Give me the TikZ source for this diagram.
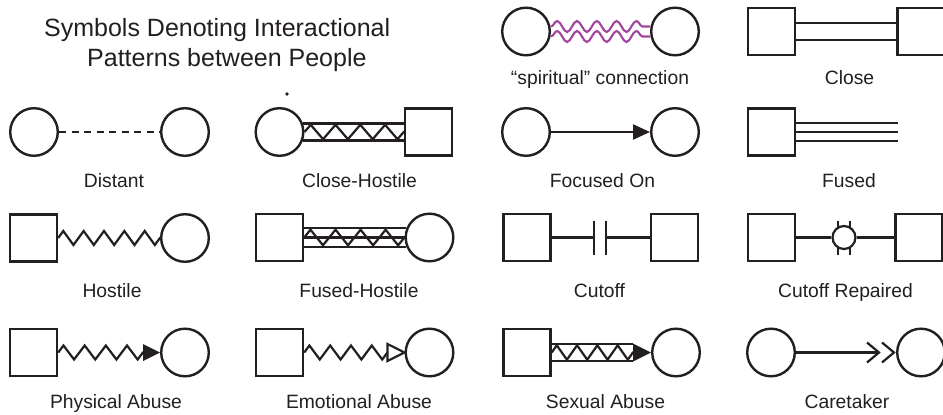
\documentclass[tikz,border=0pt]{standalone}
\usepackage{fontspec}
\setmainfont{Liberation Sans}
\usetikzlibrary{arrows.meta,decorations.pathmorphing}
\definecolor{ink}{HTML}{231F20}
\definecolor{spirit}{HTML}{A3449F}
\begin{document}
\begin{tikzpicture}[x=1pt,y=-1pt,
  fem/.style={circle,draw=ink,line width=2.4pt,minimum size=47.6pt,inner sep=0pt},
  male/.style={rectangle,draw=ink,line width=2.4pt,minimum size=47pt,inner sep=0pt},
  tie/.style={draw=ink,line width=2.2pt},
  zig/.style={tie,line join=miter,decorate,decoration={zigzag,amplitude=7pt,segment length=20pt}},
  spiritline/.style={draw=spirit,line width=2.1pt,decorate,decoration={snake,amplitude=5.5pt,segment length=19.8pt}},
  lbl/.style={text=ink,font=\fontsize{19.3}{22}\selectfont,anchor=base,inner sep=0pt},
  ttl/.style={text=ink,font=\fontsize{25}{30}\selectfont,anchor=base west,inner sep=0pt}]
\fill[white] (0,0) rectangle (943,415);
\useasboundingbox (0,0) rectangle (943,415);

% heading
\node[ttl] (title1) at (44,36) {Symbols Denoting Interactional};
\node[ttl] (title2) at (87,66) {Patterns between People};

% ---- spiritual connection
\node[fem] (sp1) at (526,31.5) {};
\node[fem] (sp2) at (675,31.5) {};
\draw[spiritline] ([yshift=5pt]sp1.east) -- ([yshift=5pt]sp2.west);
\draw[spiritline] ([yshift=-5pt]sp1.east) -- ([yshift=-5pt]sp2.west);
\node[lbl] (lsp) at (600,84) {“spiritual” connection};

% ---- close
\node[male] (cl1) at (771.5,31.5) {};
\node[male] (cl2) at (921,31.5) {};
\draw[tie] ([yshift=8.5pt]cl1.east) -- ([yshift=8.5pt]cl2.west);
\draw[tie] ([yshift=-8.5pt]cl1.east) -- ([yshift=-8.5pt]cl2.west);
\node[lbl] (lcl) at (849.5,84) {Close};

% ---- distant
\node[fem] (di1) at (34,132) {};
\node[fem] (di2) at (185,132) {};
\draw[tie,dash pattern=on 7pt off 5.5pt] (di1) -- (di2);
\node[lbl] (ldi) at (114,187) {Distant};

% ---- close-hostile
\fill[ink] (287,94) circle (1.8pt);
\node[fem] (ch1) at (279.5,132) {};
\node[male] (ch2) at (428.5,132) {};
\draw[tie] (ch1.20) -- (ch1.20 -| ch2.west);
\draw[tie] (ch1.-20) -- (ch1.-20 -| ch2.west);
\draw[zig,decoration={segment length=24.8pt,amplitude=7.2pt}] (ch1) -- (ch2);
\node[lbl] (lch) at (359.5,187) {Close-Hostile};

% ---- focused on
\node[fem] (fo1) at (526,132) {};
\node[fem] (fo2) at (675,132) {};
\draw[tie,-{Triangle[length=17pt,width=15pt]}] (fo1) -- (fo2);
\node[lbl] (lfo) at (602.5,187) {Focused On};

% ---- fused
\node[male] (fu) at (771.5,132) {};
\coordinate (fuend) at (898,132);
\draw[tie] ([yshift=8.7pt]fu.east) -- ([yshift=8.7pt]fuend);
\draw[tie] (fu.east) -- (fuend);
\draw[tie] ([yshift=-8.7pt]fu.east) -- ([yshift=-8.7pt]fuend);
\node[lbl] (lfu) at (849,187) {Fused};

% ---- hostile
\node[male] (ho1) at (33.5,238) {};
\node[fem] (ho2) at (185,238) {};
\draw[zig,decoration={segment length=20.35pt}] (ho1) -- (ho2);
\node[lbl] (lho) at (112,297.5) {Hostile};

% ---- fused-hostile
\node[male] (fh1) at (279.5,237.5) {};
\node[fem] (fh2) at (429.5,237.5) {};
\draw[tie] (fh2.158 -| fh1.east) -- (fh2.158);
\draw[tie] (fh1) -- (fh2);
\draw[tie] (fh2.202 -| fh1.east) -- (fh2.202);
\draw[zig,decoration={segment length=25.05pt,amplitude=7.8pt}] (fh1) -- (fh2);
\node[lbl] (lfh) at (359,297.5) {Fused-Hostile};

% ---- cutoff
\node[male] (co1) at (527,237.5) {};
\node[male] (co2) at (674.5,237.5) {};
\coordinate (cb1) at (594,237.5);
\coordinate (cb2) at (606,237.5);
\draw[tie] (co1) -- (cb1);
\draw[tie] (cb2) -- (co2);
\draw[tie] ([yshift=17pt]cb1) -- ([yshift=-17pt]cb1);
\draw[tie] ([yshift=17pt]cb2) -- ([yshift=-17pt]cb2);
\node[lbl] (lco) at (599.5,297.5) {Cutoff};

% ---- cutoff repaired
\node[male] (cr1) at (771.5,237.5) {};
\node[male] (cr2) at (919,237.5) {};
\coordinate (rm) at (844,237.5);
\draw[tie] ([xshift=-6pt,yshift=17pt]rm) -- ([xshift=-6pt,yshift=-17pt]rm);
\draw[tie] ([xshift=6pt,yshift=17pt]rm) -- ([xshift=6pt,yshift=-17pt]rm);
\node[circle,draw=ink,fill=white,line width=2.2pt,minimum size=23pt,inner sep=0pt] (rc) at (rm) {};
\draw[tie] (cr1) -- (rc);
\draw[tie] (rc) -- (cr2);
\node[lbl] (lcr) at (845.5,297.5) {Cutoff Repaired};

% ---- physical abuse
\node[male] (pa1) at (33.5,352.5) {};
\node[fem] (pa2) at (185,352.5) {};
\coordinate (pab) at ([xshift=-17pt]pa2.west);
\draw[zig,decoration={segment length=21.18pt}] (pa1) -- (pab);
\fill[ink] (pa2.west) -- ([yshift=8.5pt]pab) -- ([yshift=-8.5pt]pab) -- cycle;
\node[lbl] (lpa) at (116,408) {Physical Abuse};

% ---- emotional abuse
\node[male] (ea1) at (279.5,352.5) {};
\node[fem] (ea2) at (429.5,352.5) {};
\coordinate (eab) at ([xshift=-17pt]ea2.west);
\draw[zig,decoration={segment length=20.8pt}] (ea1) -- (eab);
\draw[tie,line join=miter] (ea2.west) -- ([yshift=8.5pt]eab) -- ([yshift=-8.5pt]eab) -- cycle;
\node[lbl] (lea) at (359,408) {Emotional Abuse};

% ---- sexual abuse
\node[male] (sa1) at (527,352.5) {};
\node[fem] (sa2) at (676,352.5) {};
\coordinate (sab) at ([xshift=-18pt]sa2.west);
\draw[tie] ([yshift=8.5pt]sa1.east) -- ([yshift=8.5pt]sab);
\draw[tie] ([yshift=-8.5pt]sa1.east) -- ([yshift=-8.5pt]sab);
\draw[zig,decoration={segment length=20.3pt,amplitude=7.2pt}] (sa1) -- (sab);
\fill[ink] (sa2.west) -- ([yshift=9pt]sab) -- ([yshift=-9pt]sab) -- cycle;
\node[lbl] (lsa) at (605.5,408) {Sexual Abuse};

% ---- caretaker
\node[fem] (ct1) at (771,352.5) {};
\node[fem] (ct2) at (921,352.5) {};
\draw[tie] (ct1) -- ([xshift=-17pt]ct2.west);
\draw[tie] ([xshift=-29pt,yshift=10pt]ct2.west) -- ([xshift=-17pt]ct2.west) -- ([xshift=-29pt,yshift=-10pt]ct2.west);
\draw[tie] ([xshift=-14pt,yshift=10pt]ct2.west) -- ([xshift=-2pt]ct2.west) -- ([xshift=-14pt,yshift=-10pt]ct2.west);
\node[lbl] (lct) at (847,408) {Caretaker};
\end{tikzpicture}
\end{document}
